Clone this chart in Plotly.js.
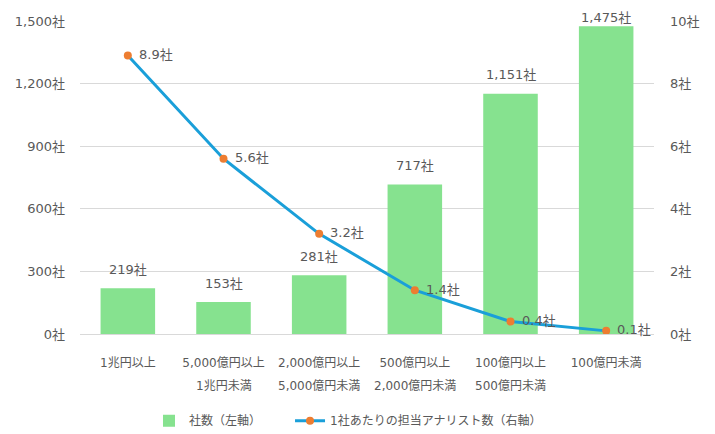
<!DOCTYPE html>
<html><head><meta charset="utf-8">
<script src="https://cdn.plot.ly/plotly-3.0.1.min.js"></script>
<style>html,body{margin:0;padding:0;background:#fff}</style>
</head><body>
<div id="chart" style="width:715px;height:434px"></div>
<script>
const catLine1 = ["1兆円以上","5,000億円以上","2,000億円以上","500億円以上","100億円以上","100億円未満"];
const catLine2 = ["","1兆円未満","5,000億円未満","2,000億円未満","500億円未満",""];
const companies = [219,153,281,717,1151,1475];
const analysts = [8.9,5.6,3.2,1.4,0.4,0.1];
const seriesNames = ["社数（左軸）","1社あたりの担当アナリスト数（右軸）"];

const fontFam = '"DejaVu Sans","Noto Sans CJK JP",sans-serif';
const txtColor = '#595959';
const yMax = 1500, plotH = 313;

const traces = [
  {type:'bar', name:seriesNames[0], x:catLine1, y:companies, legend:'legend',
   marker:{color:'#86E28F'}, yaxis:'y', hoverinfo:'none'},
  {type:'scatter', mode:'lines+markers', name:seriesNames[1], x:catLine1, y:analysts,
   yaxis:'y2', legend:'legend2', line:{color:'#1A9FD9', width:3},
   marker:{color:'#ED7D31', size:8}, hoverinfo:'none'}
];

const annotations = [];
companies.forEach((v,i)=>{
  const room = (yMax - v)/yMax*plotH + 4;
  annotations.push({x:catLine1[i], y:v, xref:'x', yref:'y', text:v.toLocaleString('en-US')+'社',
    showarrow:false, yshift:Math.min(19, room), font:{size:13,color:txtColor,family:fontFam}});
});
analysts.forEach((v,i)=>{
  annotations.push({x:catLine1[i], y:v, xref:'x', yref:'y2', text:v.toFixed(1)+'社',
    showarrow:false, xanchor:'left', xshift:9, yshift:1, font:{size:13,color:txtColor,family:fontFam}});
});
catLine2.forEach((t,i)=>{
  if(t) annotations.push({x:catLine1[i], y:0, xref:'x', yref:'paper', text:t, yanchor:'middle',
    showarrow:false, yshift:-52, font:{size:12,color:txtColor,family:fontFam}});
});

const legendStyle = {orientation:'h', xanchor:'left', y:-0.277, yanchor:'middle',
  font:{size:12,color:txtColor,family:fontFam}, itemclick:false, bgcolor:'rgba(0,0,0,0)'};

const layout = {
  width:715, height:434,
  margin:{l:80, r:61, t:21, b:100, autoexpand:false},
  paper_bgcolor:'#fff', plot_bgcolor:'#fff',
  font:{family:fontFam, size:13, color:txtColor},
  bargap:0.43,
  showlegend:true,
  legend:Object.assign({x:0.1202}, legendStyle),
  legend2:Object.assign({x:0.3659}, legendStyle),
  xaxis:{type:'category', showgrid:false, zeroline:false, showline:false, automargin:false,
    ticks:'', ticklabelstandoff:20, tickfont:{size:12,color:txtColor}},
  yaxis:{range:[0,yMax], dtick:300, tick0:0, ticksuffix:'社', separatethousands:true, automargin:false,
    showgrid:true, gridcolor:'#D9D9D9', gridwidth:1, zeroline:true, zerolinecolor:'#D9D9D9',
    showline:false, ticks:'', ticklabelstandoff:14, tickfont:{size:13,color:txtColor}},
  yaxis2:{range:[0,10], dtick:2, tick0:0, ticksuffix:'社', overlaying:'y', side:'right', automargin:false,
    showgrid:false, zeroline:false, showline:false, ticks:'', ticklabelstandoff:15,
    tickfont:{size:13,color:txtColor}},
  annotations:annotations
};

Plotly.newPlot('chart', traces, layout, {displayModeBar:false, staticPlot:true});
</script>
</body></html>
